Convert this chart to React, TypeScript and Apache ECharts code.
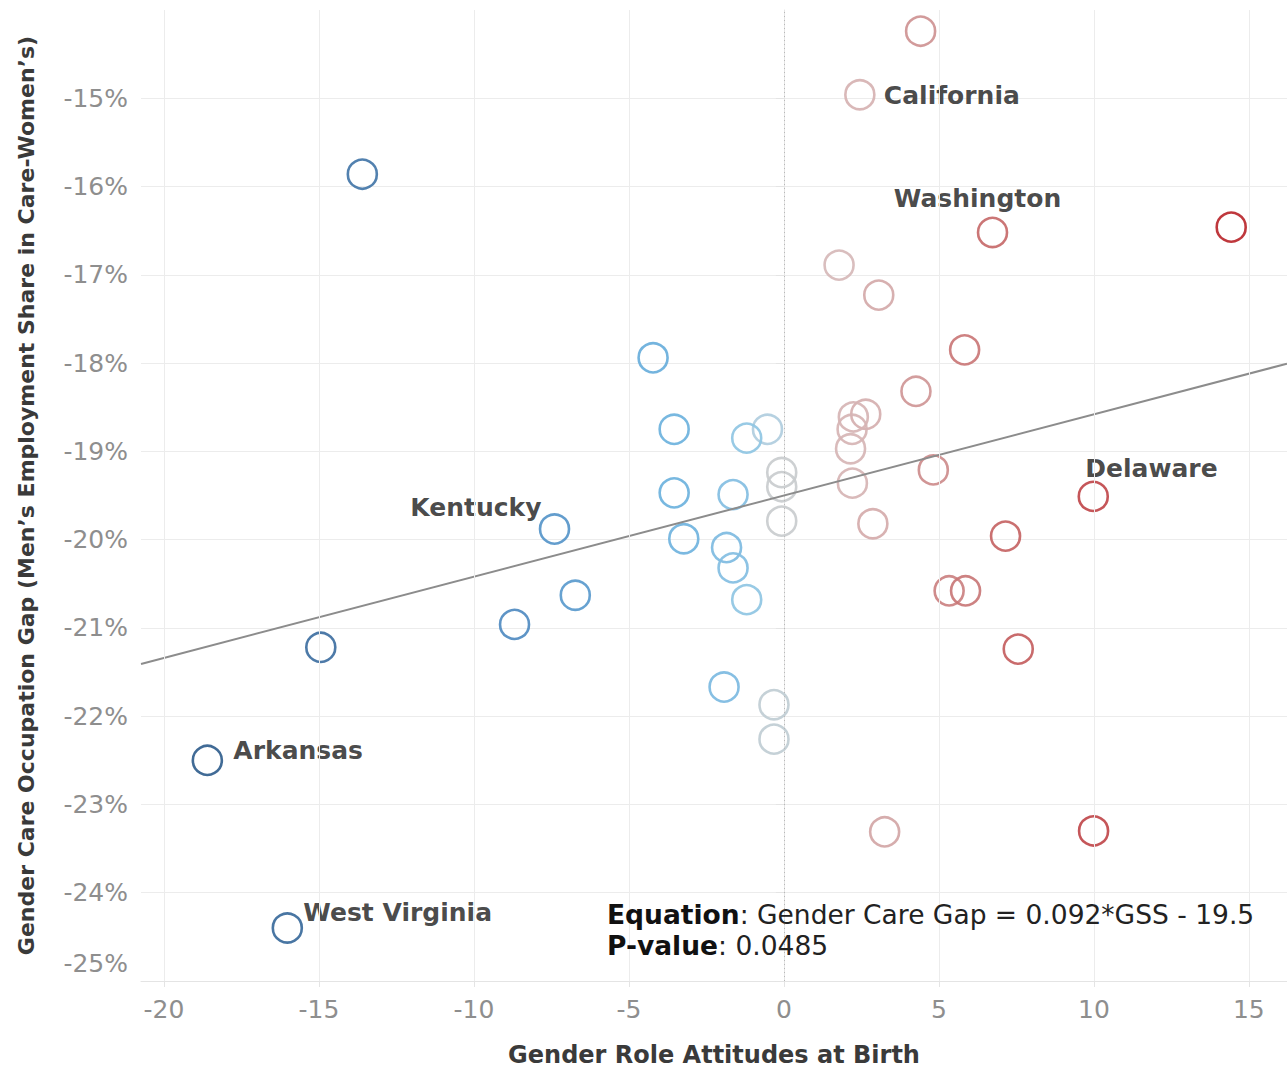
import React, { useEffect, useRef } from "react";
import * as echarts from "echarts";

// ---- data ----
const stateNames: string[] = [
  "", "California", "", "Washington", "", "", "", "", "", "",
  "", "", "", "", "", "", "", "", "", "",
  "", "", "", "Delaware", "Kentucky", "", "", "", "", "",
  "", "", "", "", "", "", "", "", "", "",
  "", "Arkansas", "", "", "West Virginia",
];
const gssAttitudes: number[] = [
  4.41, 2.45, -13.6, 6.73, 14.43, 1.78, 3.06, -4.22, 5.83, 4.26,
  -3.54, -0.53, -1.2, 2.64, 2.24, 2.2, 2.15, 4.82, -0.07, -0.07,
  -3.54, -1.64, 2.21, 9.98, -7.4, -3.23, -0.07, 2.87, 7.15, -1.85,
  -1.64, -6.73, -8.69, -1.2, 5.33, 5.86, -14.94, 7.56, -1.93, -0.32,
  -0.32, -18.6, 3.25, 9.99, -16.02,
];
const careGapPct: number[] = [
  -14.24, -14.96, -15.86, -16.52, -16.46, -16.89, -17.23, -17.94, -17.85, -18.32,
  -18.75, -18.75, -18.85, -18.58, -18.61, -18.75, -18.97, -19.21, -19.24, -19.4,
  -19.47, -19.49, -19.36, -19.51, -19.88, -19.99, -19.79, -19.82, -19.96, -20.09,
  -20.32, -20.63, -20.96, -20.68, -20.58, -20.58, -21.22, -21.24, -21.67, -21.87,
  -22.26, -22.5, -23.31, -23.3, -24.4,
];
const xTickValues: number[] = [-20, -15, -10, -5, 0, 5, 10, 15];
const TREND_SLOPE = 0.092;
const TREND_INTERCEPT = -19.5;
const P_VALUE = "0.0485";
const X_MIN = -20.74;
const X_MAX = 16.23;
const Y_MIN = -25;
const Y_MAX = -14;

// ---- styles ----
const FONT = "DejaVu Sans";
const TICK_COLOR = "#8e8e8e";
const GRID_COLOR = "#ececec";
const TITLE_COLOR = "#3a3a3a";

const NEG_STOPS: [number, string][] = [
  [0, "#cccccc"], [0.35, "#bfcdd5"], [0.6, "#aacde2"], [1.2, "#8fc5e3"],
  [2, "#7ab9e1"], [4, "#69b0dc"], [7, "#5898cc"], [9, "#4e89bf"],
  [14, "#4274a6"], [19, "#2f5c8b"],
];
const POS_STOPS: [number, string][] = [
  [0, "#cccccc"], [1.5, "#d6bcbc"], [2.5, "#d6b1b1"], [3.5, "#d2a2a2"],
  [4.5, "#ce9292"], [6, "#c97474"], [7.5, "#c45f5f"], [10, "#c0484b"],
  [14.5, "#ba262c"],
];

function hexToRgb(h: string): number[] {
  return [1, 3, 5].map((i) => parseInt(h.slice(i, i + 2), 16));
}
function colorFor(x: number): string {
  const stops = x < 0 ? NEG_STOPS : POS_STOPS;
  const a = Math.abs(x);
  let lo = stops[0];
  let hi = stops[stops.length - 1];
  if (a >= hi[0]) return hi[1];
  for (let i = 0; i < stops.length - 1; i++) {
    if (a >= stops[i][0] && a <= stops[i + 1][0]) {
      lo = stops[i];
      hi = stops[i + 1];
      break;
    }
  }
  const t = (a - lo[0]) / (hi[0] - lo[0] || 1);
  const c1 = hexToRgb(lo[1]);
  const c2 = hexToRgb(hi[1]);
  const c = c1.map((v, i) => Math.round(v + (c2[i] - v) * t));
  return `rgb(${c[0]},${c[1]},${c[2]})`;
}

// label placement (style, not data)
const LABEL_PLACEMENT: Record<string, { align: string; offset: number[] }> = {
  California: { align: "left", offset: [24, 1] },
  Washington: { align: "center", offset: [-15, -34] },
  Delaware: { align: "left", offset: [-8, -28] },
  Kentucky: { align: "right", offset: [-13, -22] },
  Arkansas: { align: "left", offset: [26, -10] },
  "West Virginia": { align: "left", offset: [16, -16] },
};

export default function App() {
  const ref = useRef<HTMLDivElement>(null);

  useEffect(() => {
    if (!ref.current) return;
    const chart = echarts.init(ref.current, null, { renderer: "svg" });

    const scatterData = gssAttitudes.map((x, i) => {
      const name = stateNames[i];
      const item: any = {
        name,
        value: [x, careGapPct[i]],
        itemStyle: { borderColor: colorFor(x) },
      };
      const p = LABEL_PLACEMENT[name];
      if (name && p) {
        item.label = {
          show: true,
          position: "inside",
          align: p.align,
          verticalAlign: "middle",
          offset: p.offset,
          formatter: name,
        };
      }
      return item;
    });

    const trend = [X_MIN, X_MAX].map((x) => [x, TREND_SLOPE * x + TREND_INTERCEPT]);

    const option: any = {
      animation: false,
      backgroundColor: "#ffffff",
      grid: {
        left: 141,
        right: 0,
        top: 10,
        bottom: 88,
        containLabel: false,
        outerBoundsMode: "none",
      },
      xAxis: {
        type: "value",
        min: X_MIN,
        max: X_MAX,
        axisLine: { show: true, lineStyle: { color: "#e4e4e4", width: 1 } },
        axisTick: {
          show: true,
          length: 6,
          customValues: xTickValues,
          lineStyle: { color: "#e4e4e4" },
        },
        axisLabel: {
          customValues: xTickValues,
          color: TICK_COLOR,
          fontFamily: FONT,
          fontSize: 25,
          margin: 16,
        },
        splitLine: { show: false },
        name: "Gender Role Attitudes at Birth",
        nameLocation: "middle",
        nameGap: 61,
        nameTextStyle: {
          color: TITLE_COLOR,
          fontFamily: FONT,
          fontWeight: "bold",
          fontSize: 24,
          lineHeight: 26,
        },
      },
      yAxis: {
        type: "value",
        min: Y_MIN,
        max: Y_MAX,
        interval: 1,
        axisLine: { show: true, lineStyle: { color: "#e4e4e4", width: 1 } },
        axisTick: { show: true, length: 8, lineStyle: { color: "#e4e4e4" } },
        axisLabel: {
          showMaxLabel: false,
          color: TICK_COLOR,
          fontFamily: FONT,
          fontSize: 25,
          margin: 13,
          formatter: (v: number) => (v === Y_MIN ? `{up|${v}%}` : `${v}%`),
          rich: {
            up: {
              color: TICK_COLOR,
              fontFamily: FONT,
              fontSize: 25,
              padding: [0, 0, 36, 0],
            },
          },
        },
        splitLine: {
          show: true,
          showMaxLine: false,
          lineStyle: { color: GRID_COLOR, width: 1 },
        },
        name: "Gender Care Occupation Gap (Men\u2019s Employment Share in Care-Women\u2019s)",
        nameLocation: "middle",
        nameGap: 104,
        nameTextStyle: {
          color: TITLE_COLOR,
          fontFamily: FONT,
          fontWeight: "bold",
          fontSize: 22,
        },
      },
      series: [
        {
          type: "line",
          silent: true,
          data: [],
          z: 1,
          markLine: {
            silent: true,
            symbol: ["none", "none"],
            label: { show: false },
            animation: false,
            data: xTickValues
              .filter((v) => v !== 0)
              .map((v) => ({ xAxis: v, lineStyle: { color: GRID_COLOR, width: 1, type: "solid" } }))
              .concat([
                { xAxis: 0, lineStyle: { color: "#b8b8b8", width: 1, type: [1, 3] } } as any,
              ]),
          },
        },
        {
          type: "scatter",
          symbol: "circle",
          symbolSize: 29,
          z: 3,
          data: scatterData,
          itemStyle: {
            color: "rgba(255,255,255,0)",
            borderWidth: 2.6,
            opacity: 0.92,
          },
          label: {
            show: false,
            color: TITLE_COLOR,
            fontFamily: FONT,
            fontWeight: "bold",
            fontSize: 25,
          },
        },
        {
          type: "line",
          data: trend,
          symbol: "none",
          silent: true,
          z: 4,
          lineStyle: { color: "#8c8c8c", width: 2 },
        },
      ],
      graphic: [
        {
          type: "text",
          left: 607,
          top: 899,
          z: 10,
          style: {
            text:
              `{b|Equation}: Gender Care Gap = ${TREND_SLOPE}*GSS - ${Math.abs(TREND_INTERCEPT)}\n` +
              `{b|P-value}: ${P_VALUE}`,
            fill: "#222222",
            font: `26.5px '${FONT}'`,
            lineHeight: 31,
            rich: {
              b: {
                fill: "#111111",
                fontFamily: FONT,
                fontWeight: "bold",
                fontSize: 26.5,
                lineHeight: 31,
              },
            },
          },
        },
      ],
    };

    chart.setOption(option);
    return () => chart.dispose();
  }, []);

  return (
    <div
      ref={ref}
      style={{ position: "fixed", left: 0, top: 0, width: 1287, height: 1069 }}
    />
  );
}
